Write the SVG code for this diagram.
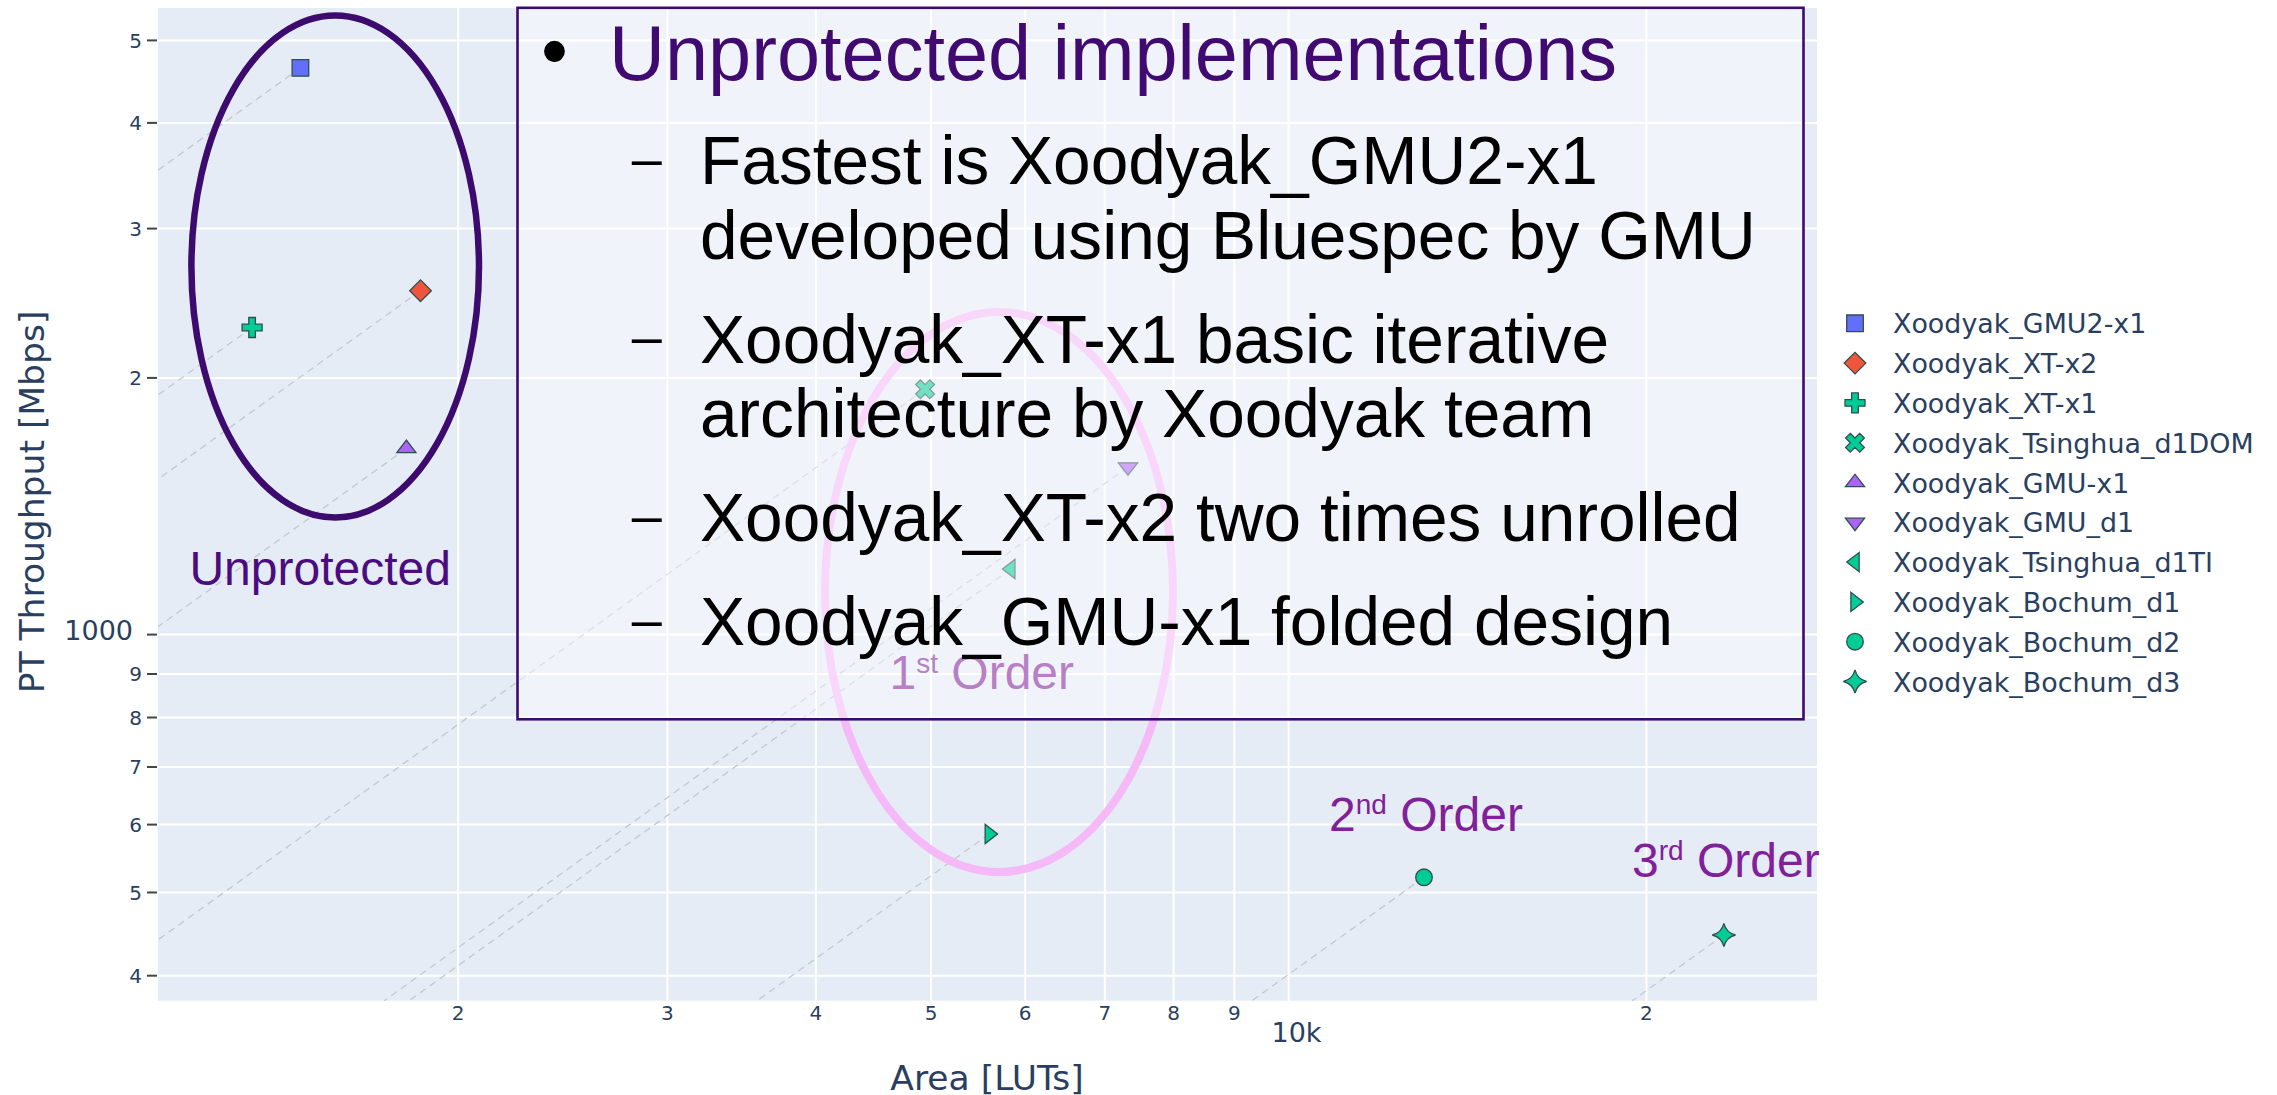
<svg xmlns="http://www.w3.org/2000/svg" width="2277" height="1095" viewBox="0 0 2277 1095">
  <style>
    .grid { stroke: #ffffff; stroke-width: 2; }
    .tick { stroke: #444444; stroke-width: 2; }
    .ref { stroke: #c3c8d2; stroke-width: 1.3; stroke-dasharray: 7 5; fill: none; }
    .mk { stroke: #2f4f4f; stroke-width: 1.3; }
    .axis { font-family: "DejaVu Sans", Verdana, sans-serif; fill: #2a3f5f; }
    .minor { font-size: 20px; }
    .major { font-size: 27px; }
    .atitle { font-size: 34.5px; }
    .leg { font-family: "DejaVu Sans", Verdana, sans-serif; font-size: 26.9px; fill: #2a3f5f; }
    .note { font-family: "Liberation Sans", Arial, sans-serif; }
    .item { font-size: 67.6px; fill: #000000; }
    .dash { font-size: 54px; fill: #000000; }
    .order { font-size: 48px; fill: #80209a; }
  </style>
  <defs>
    <path id="m-square" d="M-8.3,-8.3H8.3V8.3H-8.3Z"/>
    <path id="m-diamond" d="M10.8,0L0,10.8L-10.8,0L0,-10.8Z"/>
    <path id="m-cross" d="M10,3.3H3.3V10H-3.3V3.3H-10V-3.3H-3.3V-10H3.3V-3.3H10Z"/>
    <path id="m-x" d="M0,4.7L4.7,9.4L9.4,4.7L4.7,0L9.4,-4.7L4.7,-9.4L0,-4.7L-4.7,-9.4L-9.4,-4.7L-4.7,0L-9.4,4.7L-4.7,9.4Z"/>
    <path id="m-tup" d="M-9.58,4.15H9.58L0,-8.3Z"/>
    <path id="m-tdown" d="M-9.58,-4.15H9.58L0,8.3Z"/>
    <path id="m-tleft" d="M4.15,-9.58V9.58L-8.3,0Z"/>
    <path id="m-tright" d="M-4.15,-9.58V9.58L8.3,0Z"/>
    <circle id="m-circle" r="8.3"/>
    <path id="m-star" d="M-11.6,0A15.8,15.8 0 0 1 0,11.6A15.8,15.8 0 0 1 11.6,0A15.8,15.8 0 0 1 0,-11.6A15.8,15.8 0 0 1 -11.6,0Z"/>
  </defs>

  <rect x="0" y="0" width="2277" height="1095" fill="#ffffff"/>

  <!-- plot area -->
  <g id="plot-area">
    <rect x="158" y="8" width="1659" height="992.7" fill="#e5ecf6"/>
    <g id="gridlines">
      <line class="grid" x1="458.2" y1="8" x2="458.2" y2="1000.7"/>
      <line class="grid" x1="667.4" y1="8" x2="667.4" y2="1000.7"/>
      <line class="grid" x1="815.9" y1="8" x2="815.9" y2="1000.7"/>
      <line class="grid" x1="931" y1="8" x2="931" y2="1000.7"/>
      <line class="grid" x1="1025.2" y1="8" x2="1025.2" y2="1000.7"/>
      <line class="grid" x1="1104.8" y1="8" x2="1104.8" y2="1000.7"/>
      <line class="grid" x1="1173.6" y1="8" x2="1173.6" y2="1000.7"/>
      <line class="grid" x1="1234.3" y1="8" x2="1234.3" y2="1000.7"/>
      <line class="grid" x1="1288.7" y1="8" x2="1288.7" y2="1000.7"/>
      <line class="grid" x1="1646.4" y1="8" x2="1646.4" y2="1000.7"/>
      <line class="grid" x1="158" y1="40.4" x2="1817" y2="40.4"/>
      <line class="grid" x1="158" y1="122.9" x2="1817" y2="122.9"/>
      <line class="grid" x1="158" y1="228.6" x2="1817" y2="228.6"/>
      <line class="grid" x1="158" y1="377.9" x2="1817" y2="377.9"/>
      <line class="grid" x1="158" y1="634.6" x2="1817" y2="634.6"/>
      <line class="grid" x1="158" y1="674" x2="1817" y2="674"/>
      <line class="grid" x1="158" y1="717.5" x2="1817" y2="717.5"/>
      <line class="grid" x1="158" y1="767" x2="1817" y2="767"/>
      <line class="grid" x1="158" y1="824.6" x2="1817" y2="824.6"/>
      <line class="grid" x1="158" y1="892.5" x2="1817" y2="892.5"/>
      <line class="grid" x1="158" y1="975.7" x2="1817" y2="975.7"/>
    </g>
  </g>

  <!-- axes: ticks and labels -->
  <g id="y-axis" class="axis">
    <line class="tick" x1="147" y1="40.4" x2="157" y2="40.4"/>
    <line class="tick" x1="147" y1="122.9" x2="157" y2="122.9"/>
    <line class="tick" x1="147" y1="228.6" x2="157" y2="228.6"/>
    <line class="tick" x1="147" y1="377.9" x2="157" y2="377.9"/>
    <line class="tick" x1="147" y1="634.6" x2="157" y2="634.6"/>
    <line class="tick" x1="147" y1="674" x2="157" y2="674"/>
    <line class="tick" x1="147" y1="717.5" x2="157" y2="717.5"/>
    <line class="tick" x1="147" y1="767" x2="157" y2="767"/>
    <line class="tick" x1="147" y1="824.6" x2="157" y2="824.6"/>
    <line class="tick" x1="147" y1="892.5" x2="157" y2="892.5"/>
    <line class="tick" x1="147" y1="975.7" x2="157" y2="975.7"/>
    <g text-anchor="end" class="minor">
      <text x="142" y="47.7">5</text>
      <text x="142" y="130.2">4</text>
      <text x="142" y="235.9">3</text>
      <text x="142" y="385.2">2</text>
      <text x="142" y="681.3">9</text>
      <text x="142" y="724.8">8</text>
      <text x="142" y="774.3">7</text>
      <text x="142" y="831.9">6</text>
      <text x="142" y="899.8">5</text>
      <text x="142" y="983">4</text>
    </g>
    <text class="major" x="133" y="639.8" text-anchor="end">1000</text>
    <text class="atitle" transform="translate(44,502) rotate(-90)" text-anchor="middle">PT Throughput [Mbps]</text>
  </g>
  <g id="x-axis" class="axis">
    <g text-anchor="middle" class="minor">
      <text x="458.2" y="1019.5">2</text>
      <text x="667.4" y="1019.5">3</text>
      <text x="815.9" y="1019.5">4</text>
      <text x="931" y="1019.5">5</text>
      <text x="1025.2" y="1019.5">6</text>
      <text x="1104.8" y="1019.5">7</text>
      <text x="1173.6" y="1019.5">8</text>
      <text x="1234.3" y="1019.5">9</text>
      <text x="1646.4" y="1019.5">2</text>
    </g>
    <text class="major" x="1296.5" y="1041.5" text-anchor="middle">10k</text>
    <text class="atitle" x="987" y="1090" text-anchor="middle">Area [LUTs]</text>
  </g>

  <!-- dashed proportional reference lines from each design -->
  <g id="connectors">
    <line class="ref" x1="300.4" y1="67.9" x2="158" y2="170.1"/>
    <line class="ref" x1="420.5" y1="290.7" x2="158" y2="479.1"/>
    <line class="ref" x1="252.1" y1="327.5" x2="158" y2="395"/>
    <line class="ref" x1="925.1" y1="389.3" x2="158" y2="939.8"/>
    <line class="ref" x1="406.4" y1="448.4" x2="158" y2="626.7"/>
    <line class="ref" x1="1128" y1="467" x2="384.3" y2="1000.7"/>
    <line class="ref" x1="1010.8" y1="569" x2="409.2" y2="1000.7"/>
    <line class="ref" x1="989.3" y1="834" x2="757" y2="1000.7"/>
    <line class="ref" x1="1424" y1="877.3" x2="1252" y2="1000.7"/>
    <line class="ref" x1="1723.9" y1="935" x2="1632.3" y2="1000.7"/>
  </g>

  <!-- data points -->
  <g id="Xoodyak_GMU2-x1"><use href="#m-square" class="mk" fill="#636efa" x="300.4" y="67.9"/></g>
  <g id="Xoodyak_XT-x2"><use href="#m-diamond" class="mk" fill="#ef553b" x="420.5" y="290.7"/></g>
  <g id="Xoodyak_XT-x1"><use href="#m-cross" class="mk" fill="#00cc96" x="252.1" y="327.5"/></g>
  <g id="Xoodyak_Tsinghua_d1DOM"><use href="#m-x" class="mk" fill="#00cc96" x="925.1" y="389.3"/></g>
  <g id="Xoodyak_GMU-x1"><use href="#m-tup" class="mk" fill="#ab63fa" x="406.4" y="448.4"/></g>
  <g id="Xoodyak_GMU_d1"><use href="#m-tdown" class="mk" fill="#ab63fa" x="1128" y="467"/></g>
  <g id="Xoodyak_Tsinghua_d1TI"><use href="#m-tleft" class="mk" fill="#00cc96" x="1010.8" y="569"/></g>
  <g id="Xoodyak_Bochum_d1"><use href="#m-tright" class="mk" fill="#00cc96" x="989.3" y="834"/></g>
  <g id="Xoodyak_Bochum_d2"><use href="#m-circle" class="mk" fill="#00cc96" x="1424" y="877.3"/></g>
  <g id="Xoodyak_Bochum_d3"><use href="#m-star" class="mk" fill="#00cc96" x="1723.9" y="935"/></g>

  <!-- group outlines and order labels -->
  <g id="unprotected-group">
    <ellipse cx="335.2" cy="266.5" rx="143.8" ry="251" fill="none" stroke="#3d0a6d" stroke-width="6.5"/>
    <text class="note" x="189.4" y="585" font-size="48" fill="#4a0c7e">Unprotected</text>
  </g>
  <g id="first-order-group">
    <ellipse cx="999" cy="592" rx="174" ry="280" fill="none" stroke="#f4b9f6" stroke-width="8"/>
    <text class="note order" x="889.5" y="689.3" fill="#b46cbd">1<tspan font-size="28" dy="-16.5">st</tspan><tspan dy="16.5"> Order</tspan></text>
  </g>
  <g id="second-order-label">
    <text class="note order" x="1329" y="830.7">2<tspan font-size="28" dy="-16.5">nd</tspan><tspan dy="16.5"> Order</tspan></text>
  </g>
  <g id="third-order-label">
    <text class="note order" x="1632" y="876.7">3<tspan font-size="28" dy="-16.5">rd</tspan><tspan dy="16.5"> Order</tspan></text>
  </g>

  <!-- notes panel -->
  <g id="notes-panel">
    <rect x="517.5" y="7.8" width="1286" height="711.5" fill="#ffffff" fill-opacity="0.43" stroke="#3d0a6d" stroke-width="2.6"/>
    <text class="note" x="541" y="77" font-size="77" fill="#000000">•</text>
    <text class="note" x="609" y="80" font-size="77.5" fill="#400a70">Unprotected implementations</text>
    <text class="note dash" x="631.7" y="176.6">–</text>
    <text class="note item" x="700" y="184">Fastest is Xoodyak_GMU2-x1</text>
    <text class="note item" x="700" y="258.5">developed using Bluespec by GMU</text>
    <text class="note dash" x="631.7" y="355.1">–</text>
    <text class="note item" x="700" y="362.5">Xoodyak_XT-x1 basic iterative</text>
    <text class="note item" x="700" y="437">architecture by Xoodyak team</text>
    <text class="note dash" x="631.7" y="533.6">–</text>
    <text class="note item" x="700" y="541">Xoodyak_XT-x2 two times unrolled</text>
    <text class="note dash" x="631.7" y="637.6">–</text>
    <text class="note item" x="700" y="645">Xoodyak_GMU-x1 folded design</text>
  </g>

  <!-- legend -->
  <g id="legend">
    <use href="#m-square" class="mk" fill="#636efa" x="1855" y="323.3"/>
    <use href="#m-diamond" class="mk" fill="#ef553b" x="1855" y="363.1"/>
    <use href="#m-cross" class="mk" fill="#00cc96" x="1855" y="402.9"/>
    <use href="#m-x" class="mk" fill="#00cc96" x="1855" y="442.7"/>
    <use href="#m-tup" class="mk" fill="#ab63fa" x="1855" y="482.5"/>
    <use href="#m-tdown" class="mk" fill="#ab63fa" x="1855" y="522.3"/>
    <use href="#m-tleft" class="mk" fill="#00cc96" x="1855" y="562.1"/>
    <use href="#m-tright" class="mk" fill="#00cc96" x="1855" y="601.9"/>
    <use href="#m-circle" class="mk" fill="#00cc96" x="1855" y="641.7"/>
    <use href="#m-star" class="mk" fill="#00cc96" x="1855" y="681.5"/>
    <text class="leg" x="1893" y="333.3">Xoodyak_GMU2-x1</text>
    <text class="leg" x="1893" y="373.1">Xoodyak_XT-x2</text>
    <text class="leg" x="1893" y="412.9">Xoodyak_XT-x1</text>
    <text class="leg" x="1893" y="452.7">Xoodyak_Tsinghua_d1DOM</text>
    <text class="leg" x="1893" y="492.5">Xoodyak_GMU-x1</text>
    <text class="leg" x="1893" y="532.3">Xoodyak_GMU_d1</text>
    <text class="leg" x="1893" y="572.1">Xoodyak_Tsinghua_d1TI</text>
    <text class="leg" x="1893" y="611.9">Xoodyak_Bochum_d1</text>
    <text class="leg" x="1893" y="651.7">Xoodyak_Bochum_d2</text>
    <text class="leg" x="1893" y="691.5">Xoodyak_Bochum_d3</text>
  </g>
</svg>
